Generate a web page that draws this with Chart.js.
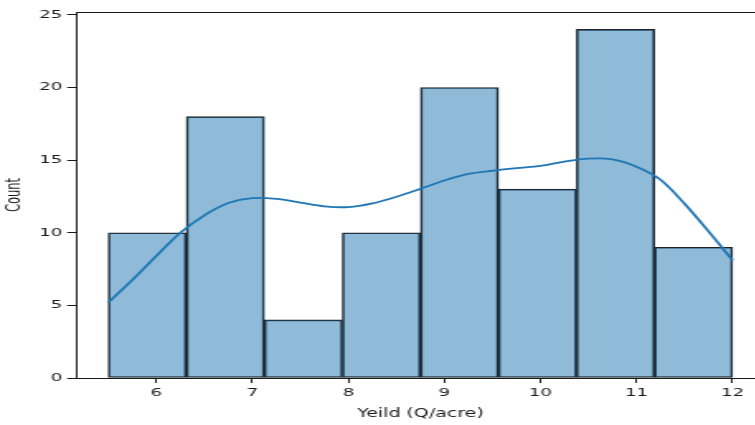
<!DOCTYPE html>
<html>
<head>
<meta charset="utf-8">
<script src="https://cdn.jsdelivr.net/npm/chart.js@4/dist/chart.umd.min.js"></script>
<style>
  html, body { margin: 0; padding: 0; background: #ffffff; overflow: hidden; width: 755px; height: 425px; }
  #wrap { width: 466px; height: 425px; transform: scaleX(1.65); transform-origin: 0 0; }
  canvas { display: block; }
</style>
</head>
<body>
<div id="wrap"><canvas id="c" width="466" height="425"></canvas></div>
<script>
// ---- data ----
const binEdges = [5.5, 6.3125, 7.125, 7.9375, 8.75, 9.5625, 10.375, 11.1875, 12];
const counts   = [10, 18, 4, 10, 20, 13, 24, 9];
const kdeX = [5.5, 5.75, 6.0, 6.25, 6.5, 6.75, 7.0, 7.25, 7.5, 7.75, 8.0, 8.25, 8.5, 8.75, 9.0, 9.25, 9.5, 9.75, 10.0, 10.25, 10.5, 10.75, 11.0, 11.25, 11.5, 11.75, 12.0];
const kdeY = [5.2, 6.75, 8.4, 10.0, 11.2, 12.05, 12.38, 12.33, 12.08, 11.82, 11.77, 12.02, 12.48, 13.03, 13.6, 14.05, 14.27, 14.45, 14.6, 14.9, 15.1, 15.05, 14.55, 13.65, 12.0, 10.1, 8.1];
const xTicks = [6, 7, 8, 9, 10, 11, 12];
const yTicks = [0, 5, 10, 15, 20, 25];
const xLabel = 'Yeild (Q/acre)';
const yLabel = 'Count';

const barPoints = counts.map((c, i) => ({ x: (binEdges[i] + binEdges[i + 1]) / 2, y: c }));
const kdePoints = kdeX.map((x, i) => ({ x: x, y: kdeY[i] }));

const ink = '#1a1a1a';
const tickFont = { family: 'DejaVu Sans', size: 11 };
const titleFont = { family: 'DejaVu Sans', size: 11.5 };

const frame = {
  id: 'frame',
  afterDatasetsDraw(chart) {
    const { ctx, chartArea: a } = chart;
    ctx.save();
    ctx.strokeStyle = ink;
    ctx.lineWidth = 1;
    ctx.beginPath();
    ctx.moveTo(a.left, a.top + 0.5);
    ctx.lineTo(a.right, a.top + 0.5);
    ctx.moveTo(a.right - 0.5, a.top);
    ctx.lineTo(a.right - 0.5, a.bottom);
    ctx.stroke();
    ctx.restore();
  }
};

new Chart(document.getElementById('c'), {
  type: 'bar',
  data: {
    datasets: [
      {
        type: 'line',
        data: kdePoints,
        borderColor: '#1f77b4',
        borderWidth: 1.8,
        pointRadius: 0,
        tension: 0.3,
        fill: false,
        order: 0
      },
      {
        type: 'bar',
        data: barPoints,
        backgroundColor: 'rgba(31,119,180,0.5)',
        borderColor: '#222222',
        borderWidth: 1,
        borderSkipped: false,
        barPercentage: 1,
        categoryPercentage: 1,
        order: 1
      }
    ]
  },
  options: {
    responsive: false,
    animation: false,
    devicePixelRatio: 1,
    layout: { padding: { left: 0, top: 12, right: 3.1, bottom: 0 } },
    plugins: { legend: { display: false }, tooltip: { enabled: false } },
    scales: {
      x: {
        type: 'linear',
        min: 5.175,
        max: 12.325,
        offset: false,
        afterBuildTicks: (s) => { s.ticks = xTicks.map(v => ({ value: v })); },
        afterFit: (s) => { s.height = 47; },
        grid: { display: true, offset: false, drawOnChartArea: false, drawTicks: true, tickLength: 5, tickColor: ink, tickWidth: 1 },
        border: { display: true, color: ink, width: 1 },
        ticks: { font: tickFont, color: ink, padding: 4, maxRotation: 0, autoSkip: false },
        title: { display: true, text: xLabel, font: titleFont, color: ink, padding: { top: 0, bottom: 4.5 } }
      },
      y: {
        type: 'linear',
        min: 0,
        max: 25.2,
        afterBuildTicks: (s) => { s.ticks = yTicks.map(v => ({ value: v })); },
        afterFit: (s) => { s.width = 46.7; },
        grid: { display: true, drawOnChartArea: false, drawTicks: true, tickLength: 6, tickColor: ink, tickWidth: 1 },
        border: { display: true, color: ink, width: 1 },
        ticks: { font: tickFont, color: ink, padding: 3, autoSkip: false },
        title: { display: true, text: yLabel, font: titleFont, color: ink, padding: { top: 2.4, bottom: 0 } }
      }
    }
  },
  plugins: [frame]
});
</script>
</body>
</html>
